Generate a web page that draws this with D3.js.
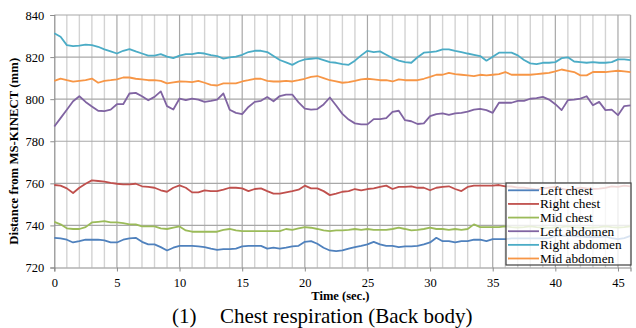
<!DOCTYPE html>
<html>
<head>
<meta charset="utf-8">
<script src="https://cdn.jsdelivr.net/npm/d3@7"></script>
<style>
  html, body { margin: 0; padding: 0; background: #fff; }
  svg { display: block; }
  text { font-family: "Liberation Serif", "Times New Roman", serif; fill: #000; }
</style>
</head>
<body>
<svg id="chart" width="636" height="328"></svg>
<script>
// Sampling: one reading every half second, 0 to 46 s
const sampleStep = 0.5;
const times = d3.range(0, 46 + 1e-9, sampleStep);

const seriesNames = ["Left chest", "Right chest", "Mid chest", "Left abdomen", "Right abdomen", "Mid abdomen"];
const seriesColors = ["#4F81BD", "#C0504D", "#9BBB59", "#8064A2", "#4BACC6", "#F79646"];

const leftChest = [
  734.1, 733.8, 733.2, 731.9, 732.5, 733.2, 733.2, 733.2, 732.9, 731.9, 731.9, 733.2, 733.8, 734.1, 732.2, 731, 731, 729.7, 728.1, 729.4,
  730.3, 730.3, 730.3, 730, 729.7, 729, 728.4, 728.7, 728.7, 729, 730, 730.3, 730.3, 730.3,
  729, 729.4, 729, 729.4, 730, 730.3, 732.2, 732.5, 731.3, 729.4, 728.1, 727.8, 728.1, 729, 729.7, 730.3, 731, 732.2, 731, 730.3,
  730.3, 729.7, 730, 730, 730.3, 731, 731.9, 734.1, 732.5, 732.5, 731.9, 732.5, 732.5,
  733.2, 733.2, 732.5, 733.5, 733.5, 733.5, 733.8, 733.8, 733.8, 733.8, 733.8, 733.8, 734, 735, 735.2, 735, 734.8, 734.8, 734.5, 734.5,
  734.5, 734.8, 734, 733.5, 734, 735
];
const rightChest = [
  759.2, 758.9, 757.6, 755.4, 757.9, 759.8, 761.4, 761.1, 760.8, 760.2, 759.8, 759.5, 759.5, 759.8, 758.6, 758.3, 757.9, 756.7, 756, 757.9,
  759, 757.9, 755.7, 755.7, 756.7, 756.3, 756.3, 757, 757.9, 757.9, 757.6, 756.3, 757.3, 757.6,
  756.3, 755.1, 755.1, 755.7, 756.3, 757, 758.9, 757.6, 757.6, 756.3, 754.4, 755.1, 756, 756.3, 757.3, 756.7, 757.3, 757.6, 758.3, 758.9,
  757.3, 758.3, 758.3, 758.6, 757.9, 757.9, 756.7, 757.9, 758.3, 758.6, 757.3, 756.3, 758.3,
  758.9, 758.9, 758.9, 758.9, 759.2, 758.6, 758.5, 758, 758, 757.5, 757, 757.5, 758, 758.3, 757.5, 756.8, 757.2, 758, 757.6, 757.3,
  757.5, 757.8, 758.6, 758.3, 758.9, 758.6
];
const midChest = [
  741.7, 740.5, 738.6, 738.3, 738.3, 739.2, 741.4, 741.7, 742, 741.4, 741.4, 741.1, 740.5, 740.5, 739.5, 739.5, 739.5, 738.6, 738.3, 738.9,
  739.5, 737.6, 737, 737, 737, 737, 737, 737.9, 738.3, 737.6, 737.3, 737.3, 737.3, 737.3,
  737.3, 737.3, 737.3, 738.3, 737.9, 738.6, 739.2, 738.9, 738.3, 737.6, 737.3, 737.6, 737.6, 737.9, 738.3, 737.9, 738.3, 737.9, 737.9, 737.9,
  738.3, 738.9, 738.3, 737.6, 737.9, 738.3, 738.9, 738.3, 738.3, 737.9, 738.3, 737.9, 738.3,
  740.5, 739.2, 739.2, 739.2, 739.2, 739.5, 739.2, 739, 739.2, 739.5, 739.2, 739, 738.8, 739, 739.2, 739.5, 739.2, 739, 738.8, 739,
  739.2, 739.5, 739.2, 739, 739.2, 739.5
];
const leftAbdomen = [
  787, 791, 795, 799, 801.4, 798.7, 796.5, 794.5, 794.3, 795, 797.6, 797.6, 802.7, 803, 801.4, 799.5, 801.1, 803.7, 796.7, 795.1,
  800.3, 799.5, 800.3, 799.8, 798.7, 799.2, 799.8, 802.7, 795, 793.5, 792.9, 796.3, 798.7, 799.2,
  801, 799, 801.5, 802.2, 802.2, 798.5, 795.5, 795, 795.3, 797.5, 800.8, 797, 793, 790.3, 788.5, 788, 788, 790.5, 790.5, 791,
  794, 794.5, 790, 789.5, 788.2, 788.5, 791.9, 792.9, 793.2, 792.5, 793.2, 793.5, 794.1,
  795, 795.4, 794.8, 793.5, 798.3, 798.3, 798.3, 799.2, 799.2, 800.2, 800.5, 801.1, 799.8, 797.6, 794.8, 799.5, 799.8, 800.3, 801.4, 797.1,
  798.7, 794.8, 795, 792.4, 796.7, 797
];
const rightAbdomen = [
  831.3, 829.7, 825.7, 825.2, 825.4, 825.9, 825.7, 824.9, 823.7, 822.7, 821.7, 823, 823.8, 822.7, 821.7, 820.7, 820.7, 821.4, 820.2, 819.5,
  820.7, 821.4, 821.4, 822, 821.7, 820.9, 820.5, 819.3, 819.9, 820.2, 821.1, 822.4, 823, 823,
  822.4, 820.5, 818.6, 817.5, 816.3, 817.9, 818.9, 819.2, 819.5, 818.6, 817.6, 817.3, 816.7, 816.3, 818.3, 820.8, 823, 822.4, 822.7, 821.1,
  819.5, 818.3, 817.6, 817.3, 819.9, 822.1, 822.4, 822.7, 823.7, 823.7, 823, 822.4, 821.7,
  821.1, 820.5, 818.3, 820.2, 822.1, 822.1, 822.1, 820.8, 818.6, 817, 816.7, 817.3, 817.3, 817.6, 819.5, 819.9, 817.9, 817.6, 817.3, 817.6,
  817.3, 817.3, 817.6, 818.9, 818.9, 818.6
];
const midAbdomen = [
  808.7, 809.8, 809, 808.3, 808.7, 809, 809.8, 807.8, 808.7, 809, 809.4, 810.3, 810.3, 809.7, 809.4, 809, 809, 808.7, 807.5, 808,
  808.4, 808.3, 808.1, 808.7, 807.8, 806.8, 806.5, 807.5, 807.5, 807.5, 808.4, 809, 809.7, 809.7,
  808.7, 808.4, 808.4, 808.7, 808.4, 809, 809.7, 810.6, 811, 810, 809, 808.4, 807.8, 808.1, 808.7, 809.4, 809.7, 809.4, 809, 809,
  808.4, 809.4, 809, 809, 809, 809.7, 810.6, 811.6, 811.6, 812.5, 811.9, 811.6, 811.3,
  811, 811.6, 811.3, 811.6, 811.9, 812.9, 811.6, 811.6, 811.6, 811.6, 811.9, 812.2, 812.5, 813.2, 814.1, 813.5, 812.9, 811.3, 811.3, 812.9,
  812.9, 812.9, 813.2, 813.5, 813.2, 812.9
];
const seriesValues = [leftChest, rightChest, midChest, leftAbdomen, rightAbdomen, midAbdomen];

const xTicks = [0, 5, 10, 15, 20, 25, 30, 35, 40, 45];
const xMinorTicks = d3.range(1, 47, 1);
const yTicks = [720, 740, 760, 780, 800, 820, 840];

const xTitle = "Time (sec.)";
const yTitle = "Distance from MS-KINECT (mm)";
const captionNumber = "(1)";
const captionText = "Chest respiration (Back body)";

// ---- layout ----
const plot = { left: 54.3, right: 630.5, top: 15, bottom: 267.5 };
const svg = d3.select("#chart");

const x = d3.scaleLinear().domain([0, 46]).range([plot.left, plot.right]);
const y = d3.scaleLinear().domain([720, 840]).range([plot.bottom, plot.top]);

// minor vertical gridlines (every second)
svg.append("g")
  .selectAll("line")
  .data(xMinorTicks.filter(t => t % 5 !== 0))
  .join("line")
  .attr("x1", d => x(d)).attr("x2", d => x(d))
  .attr("y1", plot.top).attr("y2", plot.bottom)
  .attr("stroke", "#d3d3d3").attr("stroke-width", 1.4);

// major vertical gridlines
svg.append("g")
  .selectAll("line")
  .data(xTicks.filter(t => t > 0).concat([46]))
  .join("line")
  .attr("x1", d => x(d)).attr("x2", d => x(d))
  .attr("y1", plot.top).attr("y2", plot.bottom)
  .attr("stroke", "#a8a8a8").attr("stroke-width", 1.2);

// horizontal gridlines
svg.append("g")
  .selectAll("line")
  .data(yTicks.filter(v => v > 720))
  .join("line")
  .attr("x1", plot.left).attr("x2", plot.right)
  .attr("y1", d => y(d)).attr("y2", d => y(d))
  .attr("stroke", "#a8a8a8").attr("stroke-width", 1.2);

// axes
const yAxis = d3.axisLeft(y).tickValues(yTicks).tickSize(4).tickPadding(6);
const gy = svg.append("g").attr("transform", `translate(${plot.left},0)`).call(yAxis);
gy.select(".domain").attr("stroke", "#8c8c8c").attr("stroke-width", 1.2);
gy.selectAll(".tick line").attr("stroke", "#8c8c8c");
gy.selectAll("text").style("font-size", "12.5px").style("font-family", "'Liberation Serif', serif").attr("fill", "#000");

const xAxis = d3.axisBottom(x).tickValues(xTicks).tickSize(4).tickPadding(7);
const gx = svg.append("g").attr("transform", `translate(0,${plot.bottom})`).call(xAxis);
gx.select(".domain").attr("stroke", "#8c8c8c").attr("stroke-width", 1.2);
gx.selectAll(".tick line").attr("stroke", "#8c8c8c");
gx.selectAll("text").style("font-size", "12.5px").style("font-family", "'Liberation Serif', serif").attr("fill", "#000");

// series lines
const line = d3.line()
  .x((d, i) => x(times[i]))
  .y(d => y(d));

svg.append("g")
  .selectAll("path")
  .data(seriesValues)
  .join("path")
  .attr("d", d => line(d))
  .attr("fill", "none")
  .attr("stroke", (d, i) => seriesColors[i])
  .attr("stroke-width", 1.8)
  .attr("stroke-linejoin", "round");

// axis titles
svg.append("text")
  .attr("x", (plot.left + plot.right) / 2 - 2)
  .attr("y", 300)
  .attr("text-anchor", "middle")
  .style("font-size", "12.5px").style("font-weight", "bold")
  .text(xTitle);

svg.append("text")
  .attr("transform", `translate(18,${(plot.top + plot.bottom) / 2 + 10}) rotate(-90)`)
  .attr("text-anchor", "middle")
  .style("font-size", "12.8px").style("font-weight", "bold")
  .text(yTitle);

// legend
const legend = { x: 506, y: 183, w: 125, h: 82, rowTop: 190.3, rowGap: 13.64 };
const lg = svg.append("g");
lg.append("rect")
  .attr("x", legend.x).attr("y", legend.y)
  .attr("width", legend.w).attr("height", legend.h)
  .attr("fill", "#fff").attr("fill-opacity", 0.78)
  .attr("stroke", "#404040").attr("stroke-width", 1.2);

const rows = lg.selectAll("g.row")
  .data(seriesNames)
  .join("g")
  .attr("class", "row")
  .attr("transform", (d, i) => `translate(0,${legend.rowTop + i * legend.rowGap})`);
rows.append("line")
  .attr("x1", legend.x + 2).attr("x2", legend.x + 33)
  .attr("stroke", (d, i) => seriesColors[i]).attr("stroke-width", 1.8);
rows.append("text")
  .attr("x", legend.x + 34).attr("y", 4.5)
  .style("font-size", "13.3px")
  .text(d => d);

// caption
svg.append("text")
  .attr("x", 172).attr("y", 323)
  .style("font-size", "21px")
  .text(captionNumber);
svg.append("text")
  .attr("x", 220).attr("y", 323)
  .style("font-size", "21px")
  .text(captionText);
</script>
</body>
</html>
